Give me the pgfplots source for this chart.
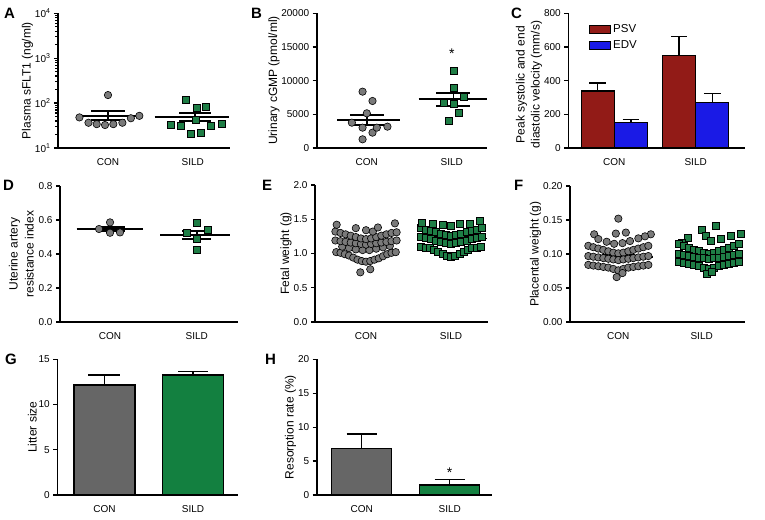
\documentclass[border=0pt]{standalone}
\usepackage{pgfplots}
\pgfplotsset{compat=1.18}
\usepackage{fontspec}
\setmainfont{Liberation Sans}
\definecolor{cgray}{HTML}{7A7A7A}
\definecolor{cgreen}{HTML}{1E7D45}
\definecolor{bgray}{HTML}{666666}
\definecolor{bgreen}{HTML}{138040}
\definecolor{psv}{HTML}{921B17}
\definecolor{edv}{HTML}{1A1AE6}
\pgfplotsset{
  prism/.style={
    scale only axis, anchor=south west,
    axis x line*=bottom, axis y line*=left,
    axis line style={line width=1.6pt,-},
    tick align=outside,
    xtick={1,2}, xticklabels={CON,SILD},
    x tick style={draw=none},
    major tick length=4pt, minor tick length=2.5pt,
    y tick style={line width=1.3pt, black},
    enlargelimits=false, clip=false,
    ticklabel style={font=\fontsize{10}{12}\selectfont},
    xticklabel style={yshift=-3pt},
    label style={font=\fontsize{12}{15}\selectfont},
    ylabel shift=-5pt,
    /pgf/number format/assume math mode=true,
    /pgf/number format/1000 sep={},
    scaled y ticks=false,
  },
  ci/.style={only marks, mark=*, mark size=3.7pt, mark options={fill=cgray, draw=black, line width=0.6pt}},
  sq/.style={only marks, mark=square*, mark size=3.5pt, mark options={fill=cgreen, draw=black, line width=0.6pt}},
  mn/.style={black, line width=1.8pt},
  eb/.style={error bars/.cd, y dir=plus, y explicit,
    error bar style={line width=1.4pt, black},
    error mark options={rotate=90, black, line width=1.4pt, mark size=#1}},
}
\begin{document}
\begin{tikzpicture}
\path[use as bounding box] (0,0) rectangle (765pt,-519pt);
% ---------- A ----------
\begin{axis}[prism, at={(58pt,-148pt)}, width=172pt, height=134.7pt,
  ymode=log, ymin=10, ymax=10000, xmin=0.41, xmax=2.44,
  ytick={10,100,1000,10000},
  yticklabels={10\textsuperscript{1},10\textsuperscript{2},10\textsuperscript{3},10\textsuperscript{4}},
  minor ytick={20,30,40,50,60,70,80,90,200,300,400,500,600,700,800,900,2000,3000,4000,5000,6000,7000,8000,9000},
  ylabel={Plasma sFLT1 (ng/ml)}]
\addplot[ci] coordinates {(0.663,48) (0.77,36.5) (0.867,34) (0.965,32.5) (1.063,34) (1.17,36.5) (1.27,46) (1.37,52) (1.0,151)};
\addplot[sq] coordinates {(1.74,32.5) (1.86,31) (1.92,121) (1.98,21) (2.044,80) (2.035,43) (2.15,83) (2.21,31) (2.34,34) (2.094,21.5)};
\addplot[mn] coordinates {(0.63,52) (1.37,52)};
\addplot[mn] coordinates {(1,42) (1,66)};
\addplot[mn] coordinates {(0.8,66) (1.2,66)};
\addplot[mn] coordinates {(0.8,42) (1.2,42)};
\addplot[mn] coordinates {(1.55,50) (2.43,50)};
\addplot[mn] coordinates {(2.03,40) (2.03,61)};
\addplot[mn] coordinates {(1.84,61) (2.22,61)};
\addplot[mn] coordinates {(1.84,40) (2.22,40)};
\end{axis}
% ---------- B ----------
\begin{axis}[prism, at={(316.7pt,-148pt)}, width=170.3pt, height=134.7pt,
  ymin=0, ymax=20000, xmin=0.41, xmax=2.415,
  ytick={0,5000,10000,15000,20000},
  ylabel={Urinary cGMP (pmol/ml)}]
\addplot[ci] coordinates {(0.824,3760) (0.95,8366) (0.95,3020) (0.95,1290) (1.0,5150) (1.067,6980) (1.067,2280) (1.118,3020) (1.243,3170)};
\addplot[sq] coordinates {(2.027,11440) (2.027,9010) (1.902,6780) (2.145,7620) (2.02,6630) (2.086,5300) (1.97,4060)};
\addplot[mn] coordinates {(0.65,4160) (1.39,4160)};
\addplot[mn] coordinates {(1,3420) (1,4900)};
\addplot[mn] coordinates {(0.8,4900) (1.2,4900)};
\addplot[mn] coordinates {(0.8,3420) (1.2,3420)};
\addplot[mn] coordinates {(1.61,7280) (2.42,7280)};
\addplot[mn] coordinates {(2.02,6290) (2.02,8220)};
\addplot[mn] coordinates {(1.82,8220) (2.22,8220)};
\addplot[mn] coordinates {(1.82,6290) (2.22,6290)};
\node[font=\fontsize{14}{14}\selectfont] at (axis cs:2,14000) {*};
\end{axis}
% ---------- C ----------
\begin{axis}[prism, at={(568.3pt,-148pt)}, width=176.7pt, height=134.7pt,
  ymin=0, ymax=800, xmin=0.435, xmax=2.606,
  ytick={0,200,400,600,800},
  ylabel={Peak systolic and end\\diastolic velocity (mm/s)},
  ylabel style={align=center, xshift=-4pt},
  legend style={draw=none, fill=none, at={(0.1,0.95)}, anchor=north west,
    font=\fontsize{11.5}{13}\selectfont, row sep=3pt},
  legend cell align=left]
\addplot[ybar, bar width=0.405, bar shift=0pt, fill=psv, draw=black, line width=1.3pt,
  legend image code/.code={\draw[fill=psv, draw=black, line width=1pt] (0pt,-4pt) rectangle (21pt,4pt);},
  eb=8.3pt]
  coordinates {(0.796,338.6) +- (0,47.4) (1.796,548.5) +- (0,112.5)};
\addlegendentry{PSV}
\addplot[ybar, bar width=0.405, bar shift=0pt, fill=edv, draw=black, line width=1.3pt,
  legend image code/.code={\draw[fill=edv, draw=black, line width=1pt] (0pt,-4pt) rectangle (21pt,4pt);},
  eb=8.3pt]
  coordinates {(1.204,150.5) +- (0,19.5) (2.204,269) +- (0,54)};
\addlegendentry{EDV}
\end{axis}
% ---------- D ----------
\begin{axis}[prism, at={(60pt,-322pt)}, width=178pt, height=136pt,
  ymin=0, ymax=0.8, xmin=0.423, xmax=2.476,
  ytick={0,0.2,0.4,0.6,0.8},
  yticklabel style={/pgf/number format/.cd, fixed, fixed zerofill, precision=1},
  ylabel={Uterine artery\\resistance index},
  ylabel shift=-2pt,
  ylabel style={align=center, font=\fontsize{12}{16}\selectfont}]
\addplot[ci] coordinates {(1.0,0.586) (0.873,0.547) (1.0,0.525) (1.115,0.527)};
\addplot[sq] coordinates {(2.0,0.584) (1.885,0.525) (2.123,0.541) (2.0,0.492) (2.0,0.427)};
\addplot[mn] coordinates {(0.615,0.547) (1.385,0.547)};
\addplot[mn] coordinates {(1,0.535) (1,0.561)};
\addplot[mn] coordinates {(0.85,0.561) (1.17,0.561)};
\addplot[mn] coordinates {(0.85,0.535) (1.17,0.535)};
\addplot[mn] coordinates {(1.58,0.512) (2.385,0.512)};
\addplot[mn] coordinates {(2,0.486) (2,0.537)};
\addplot[mn] coordinates {(1.83,0.537) (2.17,0.537)};
\addplot[mn] coordinates {(1.83,0.486) (2.17,0.486)};
\end{axis}
% ---------- E ----------
\begin{axis}[prism, at={(315pt,-322pt)}, width=173pt, height=137pt,
  ymin=0, ymax=2, xmin=0.4, xmax=2.435,
  ytick={0,0.5,1,1.5,2},
  yticklabel style={/pgf/number format/.cd, fixed, fixed zerofill, precision=1},
  ylabel={Fetal weight (g)}]
\addplot[ci] coordinates {
 (0.933,0.725) (1.05,0.77)
 (0.65,1.02) (0.70,1.01) (0.75,0.99) (0.80,0.97) (0.85,0.94) (0.90,0.91) (0.95,0.89) (1.00,0.88) (1.05,0.89) (1.10,0.91) (1.15,0.93) (1.20,0.96) (1.25,0.99) (1.30,1.01) (1.35,1.02)
 (0.72,1.10) (0.80,1.08) (0.88,1.06) (0.96,1.05) (1.04,1.05) (1.12,1.07) (1.20,1.09) (1.28,1.11)
 (0.64,1.19) (0.70,1.18) (0.76,1.17) (0.82,1.16) (0.88,1.15) (0.94,1.14) (1.00,1.13) (1.06,1.14) (1.12,1.15) (1.18,1.16) (1.24,1.17) (1.30,1.18) (1.36,1.19)
 (0.64,1.32) (0.70,1.30) (0.76,1.28) (0.82,1.26) (0.88,1.24) (0.94,1.22) (1.00,1.21) (1.06,1.22) (1.12,1.24) (1.18,1.26) (1.24,1.28) (1.30,1.30) (1.36,1.31)
 (0.655,1.42) (0.88,1.37) (1.0,1.34) (1.08,1.32) (1.14,1.38) (1.34,1.44)};
\addplot[sq] coordinates {
 (1.65,1.10) (1.70,1.09) (1.75,1.08) (1.80,1.06) (1.85,1.03) (1.90,1.00) (1.95,0.97) (2.00,0.95) (2.05,0.97) (2.10,1.00) (2.15,1.03) (2.20,1.06) (2.25,1.08) (2.30,1.09) (2.35,1.10)
 (1.64,1.25) (1.70,1.23) (1.76,1.21) (1.82,1.19) (1.88,1.17) (1.94,1.15) (2.00,1.14) (2.06,1.15) (2.12,1.17) (2.18,1.19) (2.24,1.21) (2.30,1.23) (2.36,1.25)
 (1.64,1.37) (1.70,1.35) (1.76,1.33) (1.82,1.31) (1.88,1.29) (1.94,1.27) (2.00,1.26) (2.06,1.27) (2.12,1.29) (2.18,1.31) (2.24,1.33) (2.30,1.35) (2.36,1.37)
 (1.66,1.45) (1.78,1.43) (1.90,1.42) (2.00,1.41) (2.10,1.43) (2.22,1.44) (2.34,1.48)};
\addplot[mn] coordinates {(0.61,1.17) (1.40,1.17)};
\addplot[mn] coordinates {(0.8,1.19) (1.2,1.19)};
\addplot[mn] coordinates {(0.8,1.15) (1.2,1.15)};
\addplot[mn] coordinates {(1.61,1.22) (2.42,1.22)};
\addplot[mn] coordinates {(1.8,1.24) (2.2,1.24)};
\addplot[mn] coordinates {(1.8,1.20) (2.2,1.20)};
\end{axis}
% ---------- F ----------
\begin{axis}[prism, at={(570pt,-322pt)}, width=175pt, height=136pt,
  ymin=0, ymax=0.2, xmin=0.42, xmax=2.52,
  ytick={0,0.05,0.1,0.15,0.2},
  yticklabel style={/pgf/number format/.cd, fixed, fixed zerofill, precision=2},
  ylabel={Placental weight (g)}]
\addplot[ci] coordinates {
 (1.0,0.152) (0.71,0.129) (0.97,0.130) (1.09,0.1315) (1.39,0.129)
 (0.76,0.122) (0.86,0.118) (0.95,0.115) (1.05,0.116) (1.14,0.119) (1.24,0.123) (1.32,0.126)
 (0.64,0.112) (0.70,0.110) (0.76,0.108) (0.82,0.106) (0.88,0.104) (0.94,0.102) (1.00,0.101) (1.06,0.102) (1.12,0.104) (1.18,0.106) (1.24,0.108) (1.30,0.110) (1.36,0.112)
 (0.64,0.097) (0.70,0.096) (0.76,0.095) (0.82,0.094) (0.88,0.093) (0.94,0.092) (1.00,0.091) (1.06,0.092) (1.12,0.093) (1.18,0.094) (1.24,0.095) (1.30,0.096) (1.36,0.097)
 (0.64,0.084) (0.70,0.083) (0.76,0.082) (0.82,0.081) (0.88,0.080) (0.94,0.078) (1.00,0.076) (1.06,0.078) (1.12,0.080) (1.18,0.081) (1.24,0.082) (1.30,0.083) (1.36,0.084)
 (0.98,0.066) (1.05,0.072)};
\addplot[sq] coordinates {
 (2.17,0.141) (2.0,0.135) (2.05,0.127) (1.83,0.124) (1.76,0.117) (2.11,0.119) (2.23,0.122) (2.35,0.127) (2.47,0.130)
 (1.73,0.115) (1.79,0.112) (1.85,0.109) (1.91,0.106) (1.97,0.104) (2.03,0.102) (2.09,0.101) (2.15,0.102) (2.21,0.104) (2.27,0.106) (2.33,0.109) (2.39,0.112) (2.45,0.115)
 (1.73,0.101) (1.79,0.099) (1.85,0.097) (1.91,0.096) (1.97,0.095) (2.03,0.094) (2.09,0.093) (2.15,0.094) (2.21,0.095) (2.27,0.096) (2.33,0.097) (2.39,0.099) (2.45,0.101)
 (1.73,0.088) (1.79,0.087) (1.85,0.086) (1.91,0.084) (1.97,0.082) (2.03,0.080) (2.09,0.078) (2.15,0.080) (2.21,0.082) (2.27,0.084) (2.33,0.086) (2.39,0.087) (2.45,0.088)
 (2.06,0.071) (2.12,0.074)};
\addplot[mn] coordinates {(0.61,0.096) (1.41,0.096)};
\addplot[mn] coordinates {(0.8,0.098) (1.2,0.098)};
\addplot[mn] coordinates {(0.8,0.094) (1.2,0.094)};
\addplot[mn] coordinates {(1.69,0.0985) (2.5,0.0985)};
\addplot[mn] coordinates {(1.9,0.1005) (2.3,0.1005)};
\addplot[mn] coordinates {(1.9,0.0965) (2.3,0.0965)};
\end{axis}
% ---------- G ----------
\begin{axis}[prism, at={(57.3pt,-495pt)}, width=180.7pt, height=135.7pt,
  ymin=0, ymax=15, xmin=0.467, xmax=2.508,
  ytick={0,5,10,15},
  ylabel={Litter size}]
\addplot[ybar, bar width=0.69, bar shift=0pt, fill=bgray, draw=black, line width=1.4pt, eb=16pt]
  coordinates {(1,12.16) +- (0,1.11)};
\addplot[ybar, bar width=0.69, bar shift=0pt, fill=bgreen, draw=black, line width=1.4pt, eb=15pt]
  coordinates {(2,13.27) +- (0,0.37)};
\end{axis}
% ---------- H ----------
\begin{axis}[prism, at={(316.7pt,-495pt)}, width=175pt, height=135.7pt,
  ymin=0, ymax=20, xmin=0.489, xmax=2.477,
  ytick={0,5,10,15,20},
  ylabel={Resorption rate (\%)}]
\addplot[ybar, bar width=0.68, bar shift=0pt, fill=bgray, draw=black, line width=1.4pt, eb=15pt]
  coordinates {(1,6.88) +- (0,2.11)};
\addplot[ybar, bar width=0.68, bar shift=0pt, fill=bgreen, draw=black, line width=1.4pt, eb=15pt]
  coordinates {(2,1.47) +- (0,0.84)};
\node[font=\fontsize{14}{14}\selectfont] at (axis cs:2,3.3) {*};
\end{axis}
% ---------- panel letters ----------
\begin{scope}[every node/.style={font=\fontsize{15}{15}\selectfont\bfseries, anchor=north west, inner sep=0pt}]
\node at (4pt,-8pt) {A};
\node at (251pt,-8pt) {B};
\node at (511pt,-8pt) {C};
\node at (3pt,-180pt) {D};
\node at (262pt,-180pt) {E};
\node at (514pt,-180pt) {F};
\node at (5pt,-354pt) {G};
\node at (265pt,-354pt) {H};
\end{scope}
\end{tikzpicture}
\end{document}
